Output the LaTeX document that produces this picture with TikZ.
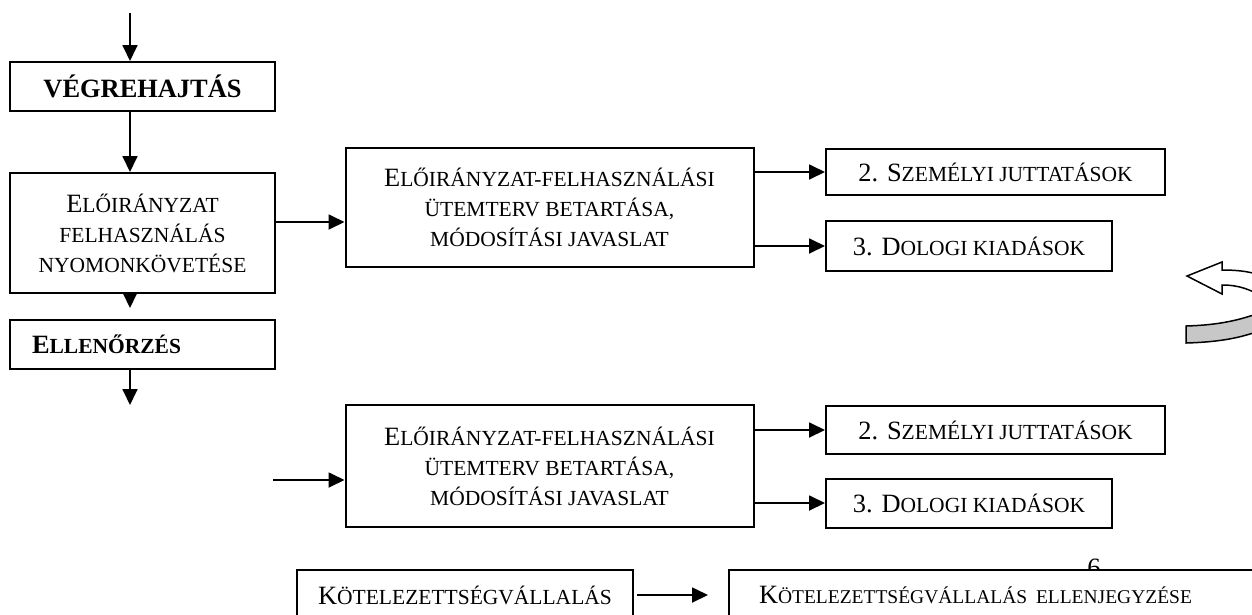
\documentclass[tikz,border=0pt]{standalone}
\usepackage{fontspec}
\setmainfont{Liberation Serif}
\usetikzlibrary{arrows.meta,positioning}
\newcommand\kis[1]{{\fontsize{21.5}{30}\selectfont #1}}
\newcommand\kisebb[1]{{\fontsize{19.5}{30}\selectfont #1}}
\tikzset{basic/.style={draw,line width=2pt,fill=white,align=center,inner sep=0pt,font=\fontsize{26.4}{30}\selectfont}}
\tikzset{phase/.style={basic,minimum width=265pt,minimum height=49pt}}
\tikzset{task/.style={basic,minimum width=408pt,minimum height=120pt}}
\tikzset{item/.style={basic,minimum height=48pt}}
\tikzset{arrow/.style={draw,line width=1.8pt,->}}
\tikzset{>={Triangle[length=16pt,width=15pt]}}
\begin{document}
\begin{tikzpicture}[x=1pt,y=-1pt]
    \useasboundingbox (0,0) rectangle (1252,614);
    \clip (0,0) rectangle (1252,614);

    % left column
    \coordinate (top) at (130,13);
    \node[phase] (vegre) at (142.5,86.5) {\textbf{VÉGREHAJTÁS}};
    \node[phase,minimum height=120pt] (eloir) at (142.5,233) {E\kis{LŐIRÁNYZAT}\\\kis{FELHASZNÁLÁS}\\\kis{NYOMONKÖVETÉSE}};
    \node[phase,text width=221pt,align=left,inner xsep=22pt] (ellen) at (142.5,344.5) {\textbf{E\kis{LLENŐRZÉS}}};
    \coordinate (bot) at (130,405);

    % first group
    \node[task,minimum height=119pt] (mid1) at (549.5,207.5) {E\kis{LŐIRÁNYZAT-FELHASZNÁLÁSI}\\\kis{ÜTEMTERV BETARTÁSA,}\\\kis{MÓDOSÍTÁSI JAVASLAT}};
    \node[item,minimum width=339pt,minimum height=46pt] (szem1) at (995.5,172) {2. S\kis{ZEMÉLYI JUTTATÁSOK}};
    \node[item,minimum width=286pt,minimum height=50pt] (dolog1) at (969,246) {3. D\kis{OLOGI KIADÁSOK}};

    % second group
    \coordinate (in2) at (273,480);
    \node[task,minimum height=122pt] (mid2) at (549.5,466) {E\kis{LŐIRÁNYZAT-FELHASZNÁLÁSI}\\\kis{ÜTEMTERV BETARTÁSA,}\\\kis{MÓDOSÍTÁSI JAVASLAT}};
    \node[item,minimum width=339pt] (szem2) at (995.5,430) {2. S\kis{ZEMÉLYI JUTTATÁSOK}};
    \node[item,minimum width=286pt,minimum height=49pt] (dolog2) at (969,503) {3. D\kis{OLOGI KIADÁSOK}};

    % bottom row
    \node[font=\fontsize{26.4}{30}\selectfont,inner sep=0pt] (six) at (1094,568) {6};
    \node[item,minimum width=336pt,minimum height=50pt] (kot) at (465,595) {K\kis{ÖTELEZETTSÉGVÁLLALÁS}};
    \node[item,anchor=west,text width=480pt,align=left,inner xsep=30pt,minimum height=50pt] (ellenj) at (728,595) {K\kisebb{ÖTELEZETTSÉGVÁLLALÁS ELLENJEGYZÉSE}};

    \path[arrow] (top) -- (top |- vegre.north);
    \path[arrow] (top |- vegre.south) -- (top |- eloir.north);
    \path[arrow] (top |- eloir.south) -- ++(0,14);
    \path[arrow] (top |- ellen.south) -- (bot);
    \path[arrow] ([yshift=11pt]eloir.east) coordinate (e1) -- (e1 -| mid1.west);
    \path[arrow] (mid1.east |- szem1) -- (szem1.west);
    \path[arrow] (mid1.east |- dolog1) -- (dolog1.west);
    \path[arrow] (in2) -- (in2 -| mid2.west);
    \path[arrow] (mid2.east |- szem2) -- (szem2.west);
    \path[arrow] (mid2.east |- dolog2) -- (dolog2.west);
    \path[arrow,shorten <=3pt,shorten >=20pt] (kot) -- (ellenj);

    % curved arrow at the right edge
    \draw[line width=1.5pt,fill=white,line join=miter] (1187,276) -- (1222,262) -- (1222,270)
        .. controls (1240,270) and (1252,272) .. (1262,276) -- (1262,296)
        .. controls (1250,290) and (1240,285) .. (1222,285) -- (1222,294) -- cycle;
    \draw[line width=1.5pt,fill=black!22] (1186,326) -- (1186,343)
        .. controls (1220,342) and (1240,338) .. (1262,330) -- (1262,312)
        .. controls (1240,320) and (1220,325) .. (1186,326) -- cycle;
\end{tikzpicture}
\end{document}
